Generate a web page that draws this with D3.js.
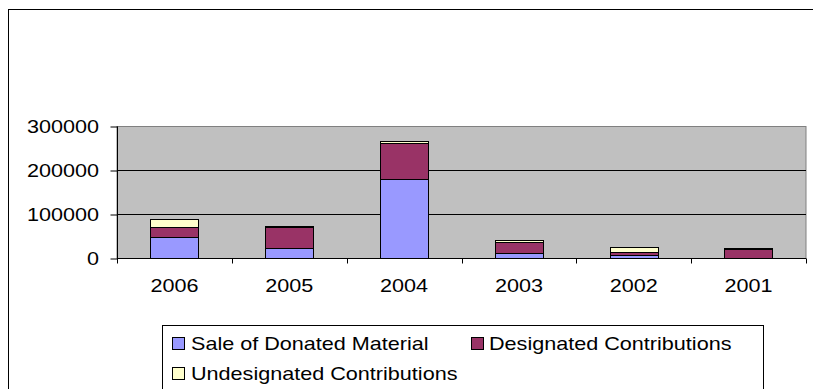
<!DOCTYPE html>
<html>
<head>
<meta charset="utf-8">
<script src="https://cdn.jsdelivr.net/npm/d3@7"></script>
<style>
  html, body { margin: 0; padding: 0; background: #fff; }
  svg { display: block; }
  text { font-family: "Liberation Sans", Arial, sans-serif; fill: #000; }
</style>
</head>
<body>
<svg id="chart" width="813" height="389"></svg>
<script>
// Income by year, stacked by source
const years = ["2006", "2005", "2004", "2003", "2002", "2001"];
const saleOfDonated = [47000, 23000, 179000, 12000, 7000, 1000];
const designated = [23500, 47000, 82000, 24500, 6000, 19000];
const undesignated = [17500, 2500, 6000, 3500, 11000, 2000];
const seriesNames = ["Sale of Donated Material", "Designated Contributions", "Undesignated Contributions"];
const seriesColors = ["#9999FF", "#993366", "#FFFFCC"];
const yTicks = [0, 100000, 200000, 300000];

const svg = d3.select("#chart");
const FONT = 18, SX = 1.2;

// outer chart frame
svg.append("rect")
  .attr("x", 8.5).attr("y", 9.5).attr("width", 830).attr("height", 400)
  .attr("fill", "#fff").attr("stroke", "#000").attr("stroke-width", 1);

const plot = { left: 117, right: 806, top: 126, bottom: 258 };

const x = d3.scaleBand()
  .domain(years)
  .range([plot.left, plot.right])
  .paddingInner(0.58)
  .paddingOuter(0.29);

const y = d3.scaleLinear()
  .domain([0, 300000])
  .range([plot.bottom, plot.top]);

// plot area background
svg.append("rect")
  .attr("x", plot.left).attr("y", plot.top + 0.5)
  .attr("width", plot.right - plot.left).attr("height", plot.bottom - plot.top)
  .attr("fill", "#C0C0C0").attr("stroke", "#808080").attr("stroke-width", 1);

// gridlines
svg.append("g").selectAll("line")
  .data(yTicks.filter(d => d > 0 && d < 300000))
  .join("line")
  .attr("x1", plot.left).attr("x2", plot.right)
  .attr("y1", d => Math.round(y(d)) + 0.5).attr("y2", d => Math.round(y(d)) + 0.5)
  .attr("stroke", "#000").attr("stroke-width", 1);

// stacked bars
const rows = years.map((yr, i) => ({
  year: yr,
  s0: saleOfDonated[i], s1: designated[i], s2: undesignated[i]
}));
const stack = d3.stack().keys(["s0", "s1", "s2"])(rows);

svg.append("g").selectAll("g")
  .data(stack)
  .join("g")
  .attr("fill", (d, i) => seriesColors[i])
  .selectAll("rect")
  .data(d => d)
  .join("rect")
  .attr("x", d => Math.round(x(d.data.year)) + 0.5)
  .attr("width", Math.round(x.bandwidth()))
  .attr("y", d => Math.round(y(d[1])) + 0.5)
  .attr("height", d => Math.max(0, Math.round(y(d[0])) - Math.round(y(d[1]))))
  .attr("stroke", "#000").attr("stroke-width", 1);

// y axis
const yAxis = d3.axisLeft(y).tickValues(yTicks).tickSize(7).tickFormat(d3.format("d"));
const gy = svg.append("g")
  .attr("transform", `translate(${plot.left + 0.5},0.5)`)
  .call(yAxis);
gy.select(".domain").attr("stroke", "#000").attr("d", `M0,${plot.top}V${plot.bottom}`);
gy.selectAll(".tick line").attr("stroke", "#000");
gy.selectAll(".tick text").remove();
svg.append("g").selectAll("text")
  .data(yTicks)
  .join("text")
  .attr("text-anchor", "end")
  .attr("font-size", FONT)
  .attr("transform", d => `translate(99,${y(d) + 6.5}) scale(${SX},1)`)
  .text(d => d3.format("d")(d));

// x axis with ticks between categories
const xAxisG = svg.append("g").attr("transform", `translate(0,${plot.bottom + 0.5})`);
xAxisG.append("line")
  .attr("x1", plot.left).attr("x2", plot.right)
  .attr("stroke", "#000");
const bounds = years.map(d => x(d) - x.step() * x.paddingOuter()).concat([plot.right]);
xAxisG.selectAll("line.tk")
  .data(bounds)
  .join("line")
  .attr("class", "tk")
  .attr("x1", d => Math.round(d) + 0.5).attr("x2", d => Math.round(d) + 0.5)
  .attr("y1", 0).attr("y2", 5)
  .attr("stroke", "#000");
svg.append("g").selectAll("text")
  .data(years)
  .join("text")
  .attr("text-anchor", "middle")
  .attr("font-size", FONT)
  .attr("transform", d => `translate(${x(d) + x.bandwidth() / 2},291.5) scale(${SX},1)`)
  .text(d => d);

// legend
const legend = svg.append("g");
legend.append("rect")
  .attr("x", 162.5).attr("y", 325.5).attr("width", 601).attr("height", 80)
  .attr("fill", "#fff").attr("stroke", "#000").attr("stroke-width", 1);
const legendPos = [
  { sx: 172.5, tx: 191, cy: 343 },
  { sx: 471.5, tx: 489, cy: 343 },
  { sx: 172.5, tx: 191, cy: 373 }
];
legendPos.forEach((p, i) => {
  legend.append("rect")
    .attr("x", p.sx).attr("y", p.cy - 5.5).attr("width", 12).attr("height", 12)
    .attr("fill", seriesColors[i]).attr("stroke", "#000").attr("stroke-width", 1);
  legend.append("text")
    .attr("font-size", FONT)
    .attr("transform", `translate(${p.tx},${p.cy + 6.5}) scale(${SX},1)`)
    .text(seriesNames[i]);
});
</script>
</body>
</html>
